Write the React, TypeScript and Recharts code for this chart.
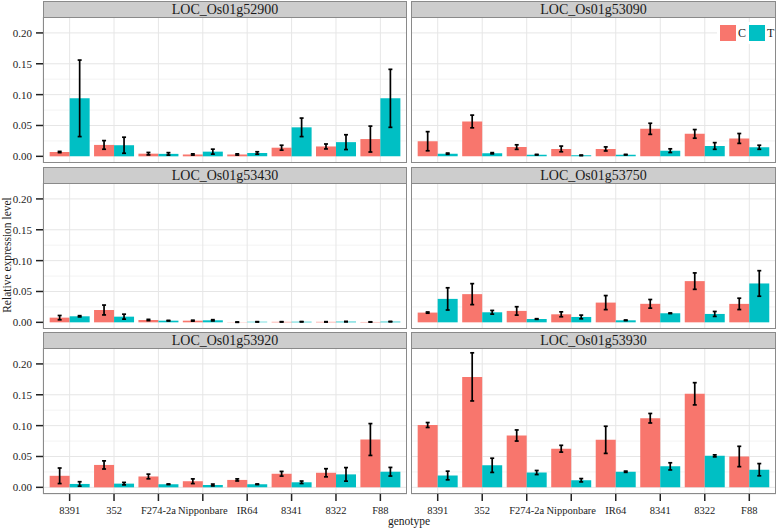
import { BarChart, Bar, XAxis, YAxis, CartesianGrid, ErrorBar } from "recharts";

const genotypes = ["8391", "352", "F274-2a", "Nipponbare", "IR64", "8341", "8322", "F88"];
const yTicks = [0, 0.05, 0.1, 0.15, 0.2];
const yMinorTicks = [0.025, 0.075, 0.125, 0.175, 0.225];
const yDomain = [-0.0108, 0.2258];

// LOC_Os01g52900
const c52900 = [0.007, 0.0185, 0.0043, 0.003, 0.003, 0.014, 0.016, 0.028];
const cErr52900 = [0.001, 0.007, 0.002, 0.001, 0.001, 0.004, 0.004, 0.021];
const t52900 = [0.094, 0.018, 0.004, 0.0076, 0.0054, 0.047, 0.023, 0.094];
const tErr52900 = [0.062, 0.013, 0.002, 0.004, 0.002, 0.015, 0.012, 0.047];

// LOC_Os01g53090
const c53090 = [0.0245, 0.0565, 0.015, 0.012, 0.012, 0.0446, 0.0364, 0.029];
const cErr53090 = [0.0155, 0.0103, 0.0037, 0.0046, 0.0033, 0.009, 0.007, 0.008];
const t53090 = [0.0043, 0.005, 0.0027, 0.0016, 0.0027, 0.0092, 0.0168, 0.0147];
const tErr53090 = [0.001, 0.001, 0.0005, 0.0005, 0.0005, 0.003, 0.0054, 0.0033];

// LOC_Os01g53430
const c53430 = [0.0076, 0.02, 0.0038, 0.0027, 0.0003, 0.0008, 0.0008, 0.0006];
const cErr53430 = [0.0035, 0.008, 0.001, 0.0008, 0.0003, 0.0003, 0.0003, 0.0003];
const t53430 = [0.0098, 0.0092, 0.0027, 0.0033, 0.0008, 0.001, 0.0012, 0.0012];
const tErr53430 = [0.001, 0.004, 0.0005, 0.001, 0.0003, 0.0003, 0.0004, 0.0003];

// LOC_Os01g53750
const c53750 = [0.0158, 0.0457, 0.0185, 0.013, 0.032, 0.03, 0.0668, 0.0299];
const cErr53750 = [0.001, 0.017, 0.0068, 0.004, 0.0114, 0.007, 0.0133, 0.0092];
const t53750 = [0.038, 0.0163, 0.0054, 0.0087, 0.0033, 0.0147, 0.0136, 0.063];
const tErr53750 = [0.018, 0.003, 0.0005, 0.003, 0.0005, 0.0005, 0.004, 0.0207];

// LOC_Os01g53920
const c53920 = [0.0187, 0.0363, 0.0176, 0.0099, 0.012, 0.022, 0.0236, 0.0775];
const cErr53920 = [0.0126, 0.0066, 0.0038, 0.0038, 0.0017, 0.0038, 0.0066, 0.0258];
const t53920 = [0.0055, 0.006, 0.005, 0.0038, 0.005, 0.0082, 0.021, 0.0253];
const tErr53920 = [0.0036, 0.002, 0.0005, 0.0015, 0.0005, 0.002, 0.011, 0.007];

// LOC_Os01g53930
const c53930 = [0.101, 0.179, 0.084, 0.0626, 0.077, 0.112, 0.1516, 0.05];
const cErr53930 = [0.004, 0.039, 0.009, 0.0055, 0.022, 0.0077, 0.018, 0.0165];
const t53930 = [0.0192, 0.0357, 0.024, 0.0115, 0.0253, 0.034, 0.051, 0.0286];
const tErr53930 = [0.007, 0.0115, 0.0033, 0.0027, 0.001, 0.0058, 0.0016, 0.0099];

const panels = [
  { gene: "LOC_Os01g52900", c: c52900, cErr: cErr52900, t: t52900, tErr: tErr52900 },
  { gene: "LOC_Os01g53090", c: c53090, cErr: cErr53090, t: t53090, tErr: tErr53090 },
  { gene: "LOC_Os01g53430", c: c53430, cErr: cErr53430, t: t53430, tErr: tErr53430 },
  { gene: "LOC_Os01g53750", c: c53750, cErr: cErr53750, t: t53750, tErr: tErr53750 },
  { gene: "LOC_Os01g53920", c: c53920, cErr: cErr53920, t: t53920, tErr: tErr53920 },
  { gene: "LOC_Os01g53930", c: c53930, cErr: cErr53930, t: t53930, tErr: tErr53930 },
];

const C_COLOR = "#F8766D";
const T_COLOR = "#00BFC4";
const FONT = "'Liberation Serif', 'DejaVu Serif', serif";
const BORDER = "#8a8a8a";

const colLeft = [43, 411];
const colWidth = [364, 365];
const rowTop = [17, 183, 348];
const PLOT_H = 146;
const STRIP_H = 16;

function Panel({ gene, c, cErr, t, tErr, index }: any) {
  const col = index % 2;
  const row = Math.floor(index / 2);
  const left = colLeft[col];
  const w = colWidth[col];
  const top = rowTop[row];
  const showY = col === 0;
  const showX = row === 2;
  const yw = showY ? 43 : 0;
  // ggplot's discrete expansion: 0.6 of a category on each side
  const pad = (w * 0.1) / 8.2;

  const rows = genotypes.map((g, i) => ({
    genotype: g,
    C: c[i],
    T: t[i],
    cErr: cErr[i],
    tErr: tErr[i],
  }));

  return (
    <>
      <div
        style={{
          position: "absolute",
          left,
          top: top - STRIP_H,
          width: w,
          height: STRIP_H + 1,
          boxSizing: "border-box",
          background: "#cdcdcd",
          border: `1px solid ${BORDER}`,
          display: "flex",
          alignItems: "center",
          justifyContent: "center",
          fontSize: 14,
          color: "#1a1a1a",
        }}
      >
        {gene}
      </div>
      <div style={{ position: "absolute", left: left - yw, top }}>
        <BarChart
          width={w + yw}
          height={PLOT_H + (showX ? 32 : 0)}
          data={rows}
          margin={{ top: 0, right: 0, bottom: 0, left: 0 }}
          barCategoryGap="5%"
          barGap={0}
        >
          <CartesianGrid stroke="#f3f3f3" vertical={false} yAxisId="minor" />
          <CartesianGrid stroke="#e6e6e6" />
          <XAxis
            dataKey="genotype"
            hide={!showX}
            height={32}
            interval={0}
            padding={{ left: pad, right: pad }}
            axisLine={false}
            tickSize={7}
            tickMargin={6}
            tickLine={{ stroke: "#222", strokeWidth: 1.5 }}
            tick={{ fontSize: 10.5, fill: "#222", fontFamily: FONT }}
          />
          <YAxis
            type="number"
            domain={yDomain}
            allowDataOverflow
            ticks={yTicks}
            hide={!showY}
            width={43}
            axisLine={false}
            tickSize={7}
            tickMargin={4}
            tickLine={{ stroke: "#222", strokeWidth: 1.5 }}
            tick={{ fontSize: 11, fill: "#222", fontFamily: FONT }}
            tickFormatter={(v: number) => v.toFixed(2)}
          />
          <YAxis
            yAxisId="minor"
            type="number"
            domain={yDomain}
            allowDataOverflow
            ticks={yMinorTicks}
            hide
          />
          <Bar dataKey="C" fill={C_COLOR} isAnimationActive={false}>
            <ErrorBar dataKey="cErr" width={2} stroke="#000" strokeWidth={1.7} isAnimationActive={false} />
          </Bar>
          <Bar dataKey="T" fill={T_COLOR} isAnimationActive={false}>
            <ErrorBar dataKey="tErr" width={2} stroke="#000" strokeWidth={1.7} isAnimationActive={false} />
          </Bar>
        </BarChart>
      </div>
      <div
        style={{
          position: "absolute",
          left,
          top,
          width: w,
          height: PLOT_H,
          boxSizing: "border-box",
          border: `1px solid ${BORDER}`,
          pointerEvents: "none",
        }}
      />
    </>
  );
}

function LegendBox() {
  const items = [
    { label: "C", color: C_COLOR },
    { label: "T", color: T_COLOR },
  ];
  return (
    <div
      style={{
        position: "absolute",
        left: 717,
        top: 22,
        width: 58,
        height: 22,
        background: "#fff",
        display: "flex",
        alignItems: "center",
        fontSize: 12,
        color: "#1a1a1a",
      }}
    >
      {items.map((it) => (
        <div key={it.label} style={{ display: "flex", alignItems: "center", marginLeft: 3 }}>
          <div style={{ width: 16, height: 16, background: it.color }} />
          <span style={{ marginLeft: 2, width: 8 }}>{it.label}</span>
        </div>
      ))}
    </div>
  );
}

export default function App() {
  return (
    <div
      style={{
        position: "absolute",
        left: 0,
        top: 0,
        width: 778,
        height: 528,
        background: "#fff",
        fontFamily: FONT,
        overflow: "hidden",
      }}
    >
      {panels.map((p, i) => (
        <Panel key={p.gene} {...p} index={i} />
      ))}
      <LegendBox />
      <div
        style={{
          position: "absolute",
          left: 7,
          top: 255,
          transform: "translate(-50%, -50%) rotate(-90deg)",
          whiteSpace: "nowrap",
          fontSize: 11.5,
          color: "#1a1a1a",
        }}
      >
        Relative expression level
      </div>
      <div
        style={{
          position: "absolute",
          left: 409,
          top: 521,
          transform: "translate(-50%, -50%)",
          whiteSpace: "nowrap",
          fontSize: 11.5,
          color: "#1a1a1a",
        }}
      >
        genotype
      </div>
    </div>
  );
}
